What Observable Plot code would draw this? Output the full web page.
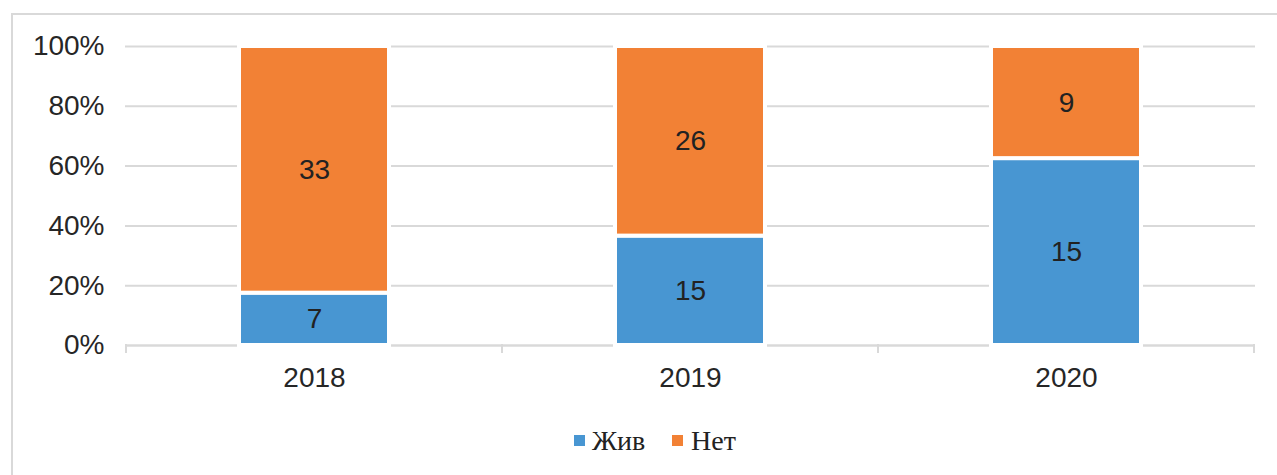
<!DOCTYPE html>
<html>
<head>
<meta charset="utf-8">
<script src="https://cdn.jsdelivr.net/npm/d3@7"></script>
<script src="https://cdn.jsdelivr.net/npm/@observablehq/plot@0.6"></script>
<style>
  html, body { margin: 0; padding: 0; background: #fff; }
  #wrap { position: relative; width: 1277px; height: 475px; overflow: hidden; background: #fff; }
  #frame { position: absolute; left: 11px; top: 13px; width: 1300px; height: 500px;
           border-top: 2px solid #d9d9d9; border-left: 2px solid #d9d9d9; box-sizing: border-box; }
  #chart { position: absolute; left: 0; top: 0; }
  #legend text { font-family: "Times New Roman", "Liberation Serif", "DejaVu Serif", serif; }
</style>
</head>
<body>
<div id="wrap">
  <div id="frame"></div>
  <div id="chart"></div>
  <svg id="legend" width="1277" height="50" style="position:absolute;left:0;top:415px;"></svg>
</div>
<script>
const years = ["2018", "2019", "2020"];
const series = ["Жив", "Нет"];
const alive = [7, 15, 15];
const none = [33, 26, 9];
const colors = ["#4896d2", "#f28135"];
const yTicks = [0, 0.2, 0.4, 0.6, 0.8, 1];

const data = [];
years.forEach((y, i) => {
  data.push({year: y, series: series[0], value: alive[i]});
  data.push({year: y, series: series[1], value: none[i]});
});

const W = 1277, H = 400;
const chart = Plot.plot({
  width: W,
  height: H,
  marginLeft: 125,
  marginRight: 22,
  marginTop: 46,
  marginBottom: 55,
  style: {fontFamily: "'Liberation Sans', Arial, sans-serif", fontSize: "28px", color: "#262626", background: "transparent"},
  x: {domain: years, paddingInner: 0.6, paddingOuter: 0.3, label: null},
  y: {domain: [0, 1], label: null},
  color: {domain: series, range: colors},
  marks: [
    Plot.gridY(yTicks, {stroke: "#d9d9d9", strokeOpacity: 1, strokeWidth: 2}),
    Plot.ruleY([0], {stroke: "#d9d9d9", strokeWidth: 2}),
    Plot.axisY(yTicks, {tickSize: 0, tickPadding: 21, tickFormat: d => Math.round(d * 100) + "%", fontSize: 28, fill: "#262626"}),
    Plot.axisX({tickSize: 0, tickPadding: 22, fontSize: 28, fill: "#262626"}),
    Plot.barY(data, Plot.stackY({offset: "normalize", x: "year", y: "value", fill: "series", stroke: "white", strokeWidth: 4})),
    Plot.text(data, Plot.stackY({offset: "normalize", x: "year", y: "value", z: "series", text: "value", fontSize: 28, fill: "#222"}))
  ]
});
document.getElementById("chart").appendChild(chart);

// category boundary ticks on the x axis, from the library's band scale
const sx = chart.scale("x");
const sy = chart.scale("y");
const half = (sx.step - sx.bandwidth) / 2;
const bounds = [sx.apply(years[0]) - half].concat(years.map(y => sx.apply(y) + sx.bandwidth + half));
const y0 = sy.apply(0);
d3.select(chart).append("g")
  .selectAll("line").data(bounds).join("line")
  .attr("x1", d => d).attr("x2", d => d)
  .attr("y1", y0 - 1).attr("y2", y0 + 8)
  .attr("stroke", "#d9d9d9").attr("stroke-width", 2);

// legend
const leg = d3.select("#legend");
const pos = [{sw: 574, tx: 592}, {sw: 672, tx: 691}];
series.forEach((s, i) => {
  leg.append("rect").attr("x", pos[i].sw).attr("y", 20).attr("width", 11).attr("height", 11).attr("fill", colors[i]);
  leg.append("text").attr("x", pos[i].tx).attr("y", 35)
    .attr("font-size", 28).attr("fill", "#222").text(s);
});
</script>
</body>
</html>
